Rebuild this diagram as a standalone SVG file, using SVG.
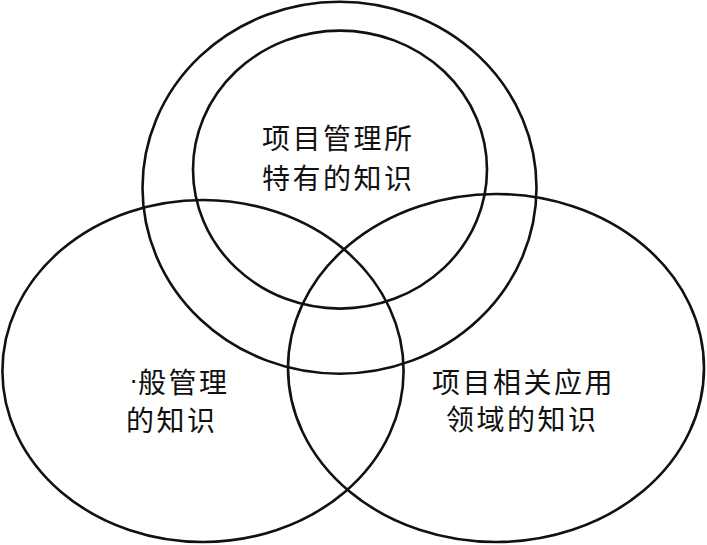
<svg xmlns="http://www.w3.org/2000/svg" width="707" height="545" viewBox="0 0 707 545">
<style>
.c{fill:none;stroke:#111;stroke-width:2.6}
.t{font-family:"Noto Sans CJK SC","Noto Sans CJK JP",sans-serif;font-size:28px;fill:#111;letter-spacing:2.5px}
.d{font-family:"Liberation Sans",sans-serif;font-size:28px;fill:#111}
</style>
<rect width="707" height="545" fill="#fff"/>
<g id="top-outer"><ellipse class="c" cx="339.5" cy="187.7" rx="197" ry="186"/></g>
<g id="top-inner"><ellipse class="c" cx="340" cy="169.6" rx="147" ry="139"/>
<text class="t" x="262" y="149">项目管理所</text>
<text class="t" x="262" y="189">特有的知识</text></g>
<g id="left"><ellipse class="c" cx="203" cy="371" rx="200.6" ry="171"/>
<text class="d" x="129" y="389">·</text>
<text class="t" x="138" y="393">般管理</text>
<text class="t" x="126" y="431">的知识</text></g>
<g id="right"><ellipse class="c" cx="496" cy="368" rx="208" ry="174"/>
<text class="t" x="432" y="393">项目相关应用</text>
<text class="t" x="446" y="430">领域的知识</text></g>
<g id="connectors"/>
</svg>
